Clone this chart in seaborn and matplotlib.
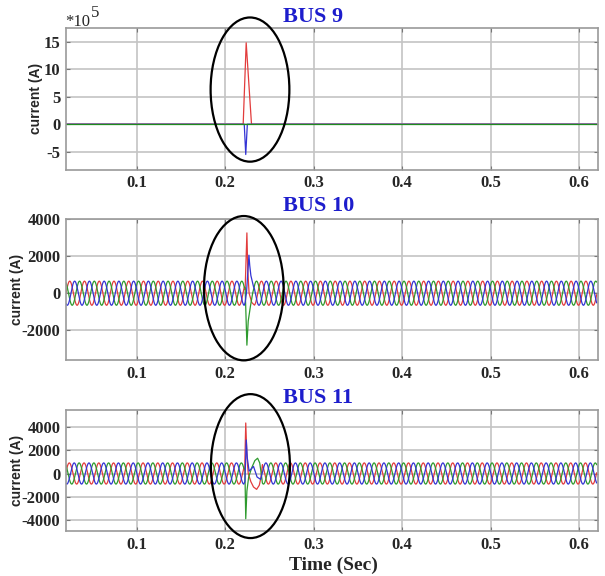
import numpy as np
import matplotlib
matplotlib.use("Agg")
import matplotlib.pyplot as plt
from matplotlib.patches import Ellipse
import seaborn as sns

# ---- datos ----
freq = 60.0              # Hz
amp_bus10 = 650.0        # A, regimen permanente
amp_bus11 = 900.0
t_start, t_end = 0.02, 0.62

# BUS 9 (unidades de 1e5 A): todo en cero salvo el pico de falla
bus9_red_t = [0.02, 0.2203, 0.2237, 0.2297, 0.62]
bus9_red_v = [0.0, 0.0, 14.8, 0.0, 0.0]
bus9_blue_t = [0.02, 0.2215, 0.2232, 0.2250, 0.62]
bus9_blue_v = [0.0, 0.0, -5.5, 0.0, 0.0]
bus9_green_t = [0.02, 0.62]
bus9_green_v = [0.0, 0.0]

# BUS 10: transitorio de falla (t, A)
bus10_win = (0.2215, 0.2330)
bus10_red_t = [0.2225, 0.2245, 0.2255, 0.2270, 0.2300]
bus10_red_v = [200, 3250, 1200, 0, -500]
bus10_blue_t = [0.2225, 0.2240, 0.2268, 0.2277, 0.2290, 0.2305, 0.2320]
bus10_blue_v = [-500, 0, 2050, 1500, 950, 650, 350]
bus10_green_t = [0.2225, 0.2245, 0.2260, 0.2285, 0.2310]
bus10_green_v = [300, -2800, -1500, -700, 0]

# BUS 11: transitorio de falla (t, A)
bus11_win = (0.2210, 0.2420)
bus11_red_t = [0.2220, 0.2232, 0.2245, 0.2260, 0.2290, 0.2320, 0.2355, 0.2385, 0.2405]
bus11_red_v = [300, 4300, 1500, 0, -700, -1150, -1350, -1000, -300]
bus11_blue_t = [0.2222, 0.2238, 0.2250, 0.2270, 0.2320, 0.2360, 0.2400]
bus11_blue_v = [-700, 2850, 1300, 200, 600, -300, -500]
bus11_green_t = [0.2222, 0.2232, 0.2245, 0.2265, 0.2300, 0.2335, 0.2366, 0.2390, 0.2405]
bus11_green_v = [400, -3850, -1500, -300, 500, 1100, 1300, 900, 100]

xticks = [0.1, 0.2, 0.3, 0.4, 0.5, 0.6]
bus9_yticks = [-5, 0, 5, 10, 15]
bus10_yticks = [-2000, 0, 2000, 4000]
bus11_yticks = [-4000, -2000, 0, 2000, 4000]

c_red, c_blue, c_green = "#e23c3c", "#3434d4", "#2e9a2e"

sns.set_style("whitegrid")
plt.rcParams["font.family"] = ["Liberation Serif", "DejaVu Serif"]

w = 2 * np.pi * freq
t = np.arange(t_start, t_end, 0.0002)


def fase(amp, shift, win, keys_t, keys_v):
    t_a, t_b = win
    s = amp * np.sin(w * (t - t_a) + shift)
    antes, despues = t < t_a, t > t_b
    tt = np.concatenate([t[antes], [t_a], keys_t, [t_b], t[despues]])
    vv = np.concatenate([s[antes], [amp * np.sin(shift)], keys_v,
                         [amp * np.sin(w * (t_b - t_a) + shift)], s[despues]])
    return tt, vv


sh_red, sh_blue, sh_green = np.pi / 6, -np.pi / 2, -7 * np.pi / 6

fig = plt.figure(figsize=(6.05, 5.76), dpi=100)
ax1 = fig.add_axes([0.109, 0.705, 0.879, 0.2465])
ax2 = fig.add_axes([0.109, 0.375, 0.879, 0.2448])
ax3 = fig.add_axes([0.109, 0.078, 0.879, 0.2101])

lw = 0.9
# BUS 9
sns.lineplot(x=bus9_red_t, y=bus9_red_v, color=c_red, lw=lw, ax=ax1, estimator=None, sort=False)
sns.lineplot(x=bus9_blue_t, y=bus9_blue_v, color=c_blue, lw=lw, ax=ax1, estimator=None, sort=False)
sns.lineplot(x=bus9_green_t, y=bus9_green_v, color="#1f8a1f", lw=lw, ax=ax1, estimator=None, sort=False)

# BUS 10 y BUS 11
for ax, amp, win, datos in [
    (ax2, amp_bus10, bus10_win, [(sh_red, bus10_red_t, bus10_red_v, c_red),
                                 (sh_green, bus10_green_t, bus10_green_v, c_green),
                                 (sh_blue, bus10_blue_t, bus10_blue_v, c_blue)]),
    (ax3, amp_bus11, bus11_win, [(sh_red, bus11_red_t, bus11_red_v, c_red),
                                 (sh_green, bus11_green_t, bus11_green_v, c_green),
                                 (sh_blue, bus11_blue_t, bus11_blue_v, c_blue)])]:
    for sh, kt, kv, col in datos:
        tt, vv = fase(amp, sh, win, kt, kv)
        sns.lineplot(x=tt, y=vv, color=col, lw=lw, ax=ax, estimator=None, sort=False)

limites = [(ax1, (-8.3, 17.5), bus9_yticks, -0.043), (ax2, (-3600, 4000), bus10_yticks, -0.079),
           (ax3, (-4900, 5400), bus11_yticks, -0.079)]
for ax, ylim, yt, lx in limites:
    ax.set_xlim(t_start, 0.621)
    ax.set_ylim(*ylim)
    ax.set_xticks(xticks)
    ax.set_xticklabels([f"{x:.1f}" for x in xticks])
    ax.set_yticks(yt)
    ax.set_yticklabels([str(v) for v in yt])
    ax.grid(True, color="#c4c4c4", lw=1.2)
    for sp in ax.spines.values():
        sp.set_color("#9a9a9a")
        sp.set_linewidth(1.2)
    ax.tick_params(direction="in", length=3, color="#777777", labelsize=12, pad=4,
                   right=True, top=True, left=True, bottom=True)
    for lab in ax.get_xticklabels() + ax.get_yticklabels():
        lab.set_fontweight("bold")
    ax.set_ylabel("current (A)", family="Liberation Sans", fontweight="bold", fontsize=10)
    ax.yaxis.set_label_coords(lx, 0.5)
    ax.set_xlabel("")

# elipses que marcan la falla
for ax, c, wd, h in [(ax1, (0.228, 6.3), 0.089, 26.2),
                     (ax2, (0.221, 270), 0.090, 7780),
                     (ax3, (0.2285, 630), 0.0893, 12250)]:
    ax.add_patch(Ellipse(c, wd, h, fill=False, ec="black", lw=1.6, clip_on=False, zorder=5))

# titulos
for y, txt in [(17, "BUS 9"), (206, "BUS 10"), (398, "BUS 11")]:
    fig.text(283 / 605, 1 - y / 576, txt, color="#1d1dcc", fontsize=16,
             fontweight="bold", ha="left", va="center")

fig.text(65 / 605, 1 - 26 / 576, "*10", fontsize=12, ha="left", va="baseline")
fig.text(91 / 605, 1 - 17 / 576, "5", fontsize=12, ha="left", va="baseline")
fig.text(333 / 605, 1 - 565 / 576, "Time (Sec)", fontsize=14, fontweight="bold",
         ha="center", va="center")

fig.savefig("out.png", dpi=100)
